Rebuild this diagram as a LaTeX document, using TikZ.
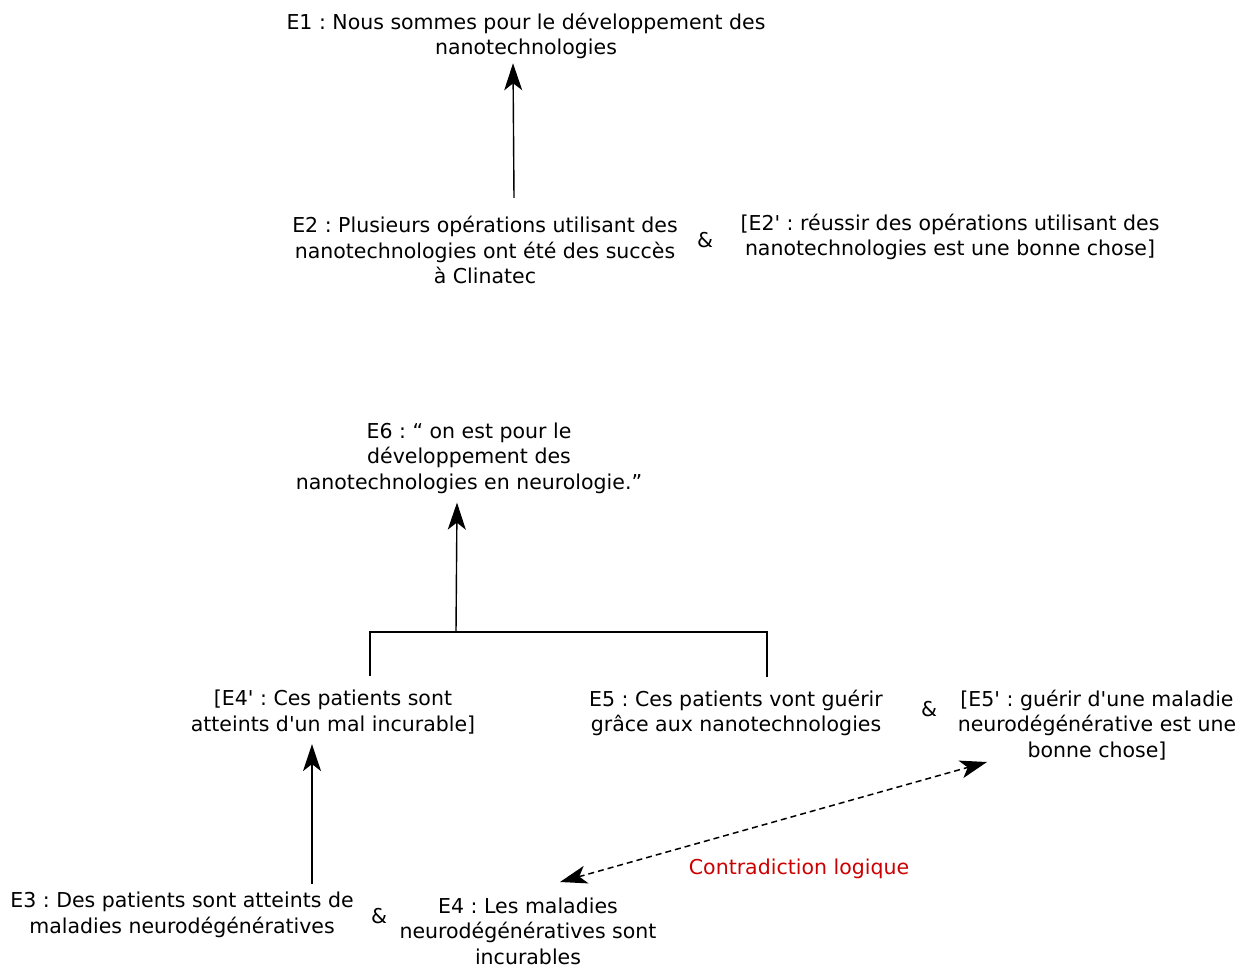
\documentclass[tikz,border=0pt]{standalone}
\usepackage{fontspec}
\setmainfont{DejaVu Sans}[Ligatures=TeXOff]
\usetikzlibrary{arrows.meta,calc}
\definecolor{redtxt}{RGB}{204,0,0}
\begin{document}
\begin{tikzpicture}[x=1pt,y=-1pt,
  every node/.style={font=\fontsize{20.5}{25.5}\selectfont\frenchspacing, align=center, inner sep=0pt},
  txt/.style={},
  arr/.style={line width=1.4pt, -{Stealth[length=27pt,width=18pt,inset=7pt]}},
  dbl/.style={line width=1.5pt, dash pattern=on 6pt off 4pt, {Stealth[length=27pt,width=18pt,inset=7pt]}-{Stealth[length=27pt,width=18pt,inset=7pt]}},
  brk/.style={line width=1.4pt}]
\useasboundingbox (0,0) rectangle (1255,968);
\node[txt] (e1) at (526,36) {E1 : Nous sommes pour le développement des\\nanotechnologies};
\node[txt] (e2) at (485,250) {E2 : Plusieurs opérations utilisant des\\nanotechnologies ont été des succès\\à Clinatec};
\node (and1) at (705,240) {\&};
\node[txt] (e2p) at (950,237) {[E2' : réussir des opérations utilisant des\\nanotechnologies est une bonne chose]};
\node[txt] (e6) at (469,458) {E6 : “ on est pour le\\développement des\\nanotechnologies en neurologie.”};
\node[txt] (e4p) at (333,712) {[E4' : Ces patients sont\\atteints d'un mal incurable]};
\node[txt] (e5) at (736,713) {E5 : Ces patients vont guérir\\grâce aux nanotechnologies};
\node (and2) at (929,709) {\&};
\node[txt] (e5p) at (1097,725) {[E5' : guérir d'une maladie\\neurodégénérative est une\\bonne chose]};
\node[txt] (e3) at (182,915) {E3 : Des patients sont atteints de\\maladies neurodégénératives};
\node (and3) at (379,916) {\&};
\node[txt] (e4) at (528,931) {E4 : Les maladies\\neurodégénératives sont\\incurables};
\node[text=redtxt] (contra) at (799,869) {Contradiction logique};
% E2 -> E1
\coordinate (s1) at ($(e2.north)+(29,-18)$);
\coordinate (t1) at ($(e1.south)+(-13,4)$);
\draw[arr] (s1) -- (t1);
% E3 -> E4'
\coordinate (s2) at ($(e3.north)+(130,-8)$);
\coordinate (t2) at ($(e4p.south)+(-21,10)$);
\draw[arr] (s2) -- (t2);
% bracket E4' + E5 -> E6
\coordinate (bl) at ($(e4p.north)+(37,-14)$);
\coordinate (br) at ($(e5.north)+(31,-13)$);
\coordinate (bm) at (456,632);
\draw[brk] (bl) |- (bm) -| (br);
\coordinate (t3) at ($(e6.south)+(-12,9)$);
\draw[arr] (bm) -- (t3);
% contradiction
\coordinate (c1) at (560,882);
\coordinate (c2) at (987,762);
\draw[dbl] (c1) -- (c2);
\end{tikzpicture}
\end{document}
